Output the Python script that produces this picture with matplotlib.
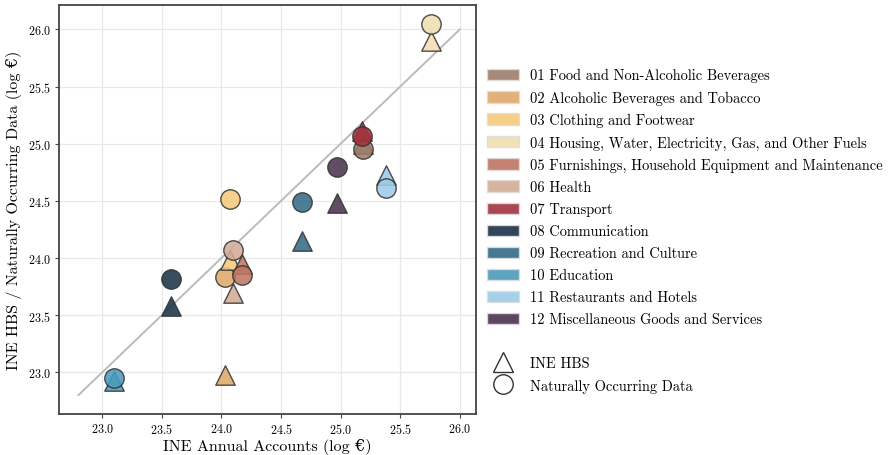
import matplotlib
matplotlib.use("Agg")
import matplotlib.pyplot as plt
from matplotlib.patches import Patch
from matplotlib.lines import Line2D

plt.rcParams["font.family"] = ["cmr10", "DejaVu Serif"]
plt.rcParams["mathtext.fontset"] = "cm"
plt.rcParams["axes.formatter.use_mathtext"] = True

# ------------------------------------------------------------------ data ----
CATEGORIES = [
    "01 Food and Non-Alcoholic Beverages",
    "02 Alcoholic Beverages and Tobacco",
    "03 Clothing and Footwear",
    "04 Housing, Water, Electricity, Gas, and Other Fuels",
    "05 Furnishings, Household Equipment and Maintenance",
    "06 Health",
    "07 Transport",
    "08 Communication",
    "09 Recreation and Culture",
    "10 Education",
    "11 Restaurants and Hotels",
    "12 Miscellaneous Goods and Services",
]
COLORS = ["#9c7d6a", "#e0a86a", "#f5c97a", "#efdeb0", "#bf7563", "#d4ab96",
          "#a1333d", "#1b3249", "#336a86", "#4a9bbb", "#9ccbe7", "#4a344f"]

# x: INE annual accounts (log EUR)
annual = [25.19, 24.03, 24.07, 25.76, 24.17, 24.10,
          25.18, 23.58, 24.68, 23.10, 25.38, 24.97]
# y: INE HBS (triangles)
hbs = [25.00, 22.98, 23.98, 25.90, 23.95, 23.69,
       25.11, 23.58, 24.15, 22.92, 24.73, 24.48]
# y: naturally occurring data (circles)
nod = [24.95, 23.83, 24.52, 26.05, 23.85, 24.07,
       25.07, 23.82, 24.49, 22.95, 24.61, 24.80]

ref_line = [22.8, 26.0]

# ------------------------------------------------------------------ plot ----
fig = plt.figure(figsize=(8.91, 4.56), dpi=100)
ax = fig.add_axes([0.066, 0.09, 0.468, 0.897])

ax.plot(ref_line, ref_line, color="#bbbbbb", linewidth=1.4, zorder=1)

for i, c in enumerate(COLORS):
    ax.scatter(annual[i], hbs[i], marker="^", s=195, color=c, alpha=0.87,
               edgecolor="#333333", linewidth=1.0, zorder=2 + i)
    ax.scatter(annual[i], nod[i], marker="o", s=195, color=c, alpha=0.87,
               edgecolor="#333333", linewidth=1.0, zorder=2 + i)

ax.set_xlim(22.635, 26.135)
ax.set_ylim(22.635, 26.215)
ax.set_xticks([23.0, 23.5, 24.0, 24.5, 25.0, 25.5, 26.0])
ax.set_yticks([23.0, 23.5, 24.0, 24.5, 25.0, 25.5, 26.0])
ax.tick_params(labelsize=8.7, color="#444444", length=3, pad=3)
ax.grid(color="#e8e8e8", linewidth=0.9)
ax.set_axisbelow(True)
for sp in ax.spines.values():
    sp.set_color("#444444")
    sp.set_linewidth(1.3)

ax.set_xlabel("INE Annual Accounts (log €)", fontsize=11.5, labelpad=1)
ax.set_ylabel("INE HBS / Naturally Occurring Data (log €)", fontsize=11.5)

handles = [Patch(facecolor=c, edgecolor="#dddddd", alpha=0.9) for c in COLORS]
labels = list(CATEGORIES)
handles.append(Patch(facecolor="none", edgecolor="none"))
labels.append("")
handles.append(Line2D([], [], marker="^", linestyle="none", markersize=14,
                      markerfacecolor="none", markeredgecolor="#333333"))
labels.append("INE HBS")
handles.append(Line2D([], [], marker="o", linestyle="none", markersize=14,
                      markerfacecolor="none", markeredgecolor="#333333"))
labels.append("Naturally Occurring Data")

fig.legend(handles, labels, loc="upper left", bbox_to_anchor=(0.532, 0.877),
           frameon=False, fontsize=10.4, handlelength=2.2, handleheight=0.85,
           labelspacing=0.57, handletextpad=0.8)

fig.savefig("out.png", dpi=100)
